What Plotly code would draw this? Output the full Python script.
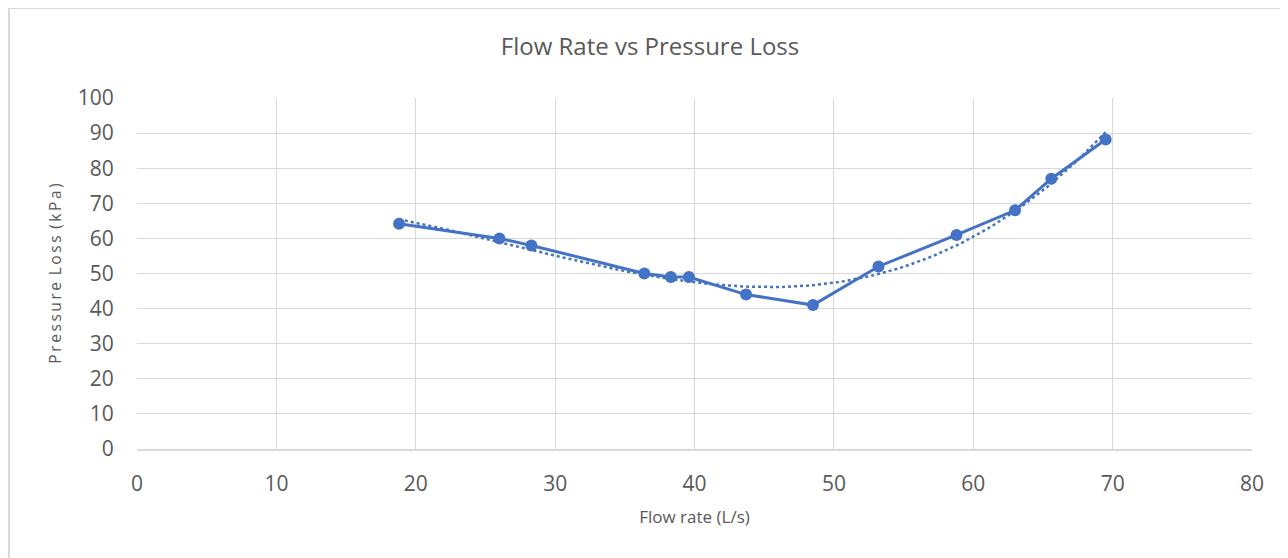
import numpy as np
import plotly.graph_objects as go

# Data
flow_rate = [18.8, 26.0, 28.3, 36.4, 38.3, 39.6, 43.7, 48.5, 53.2, 58.8, 63.0, 65.6, 69.5]
pressure_loss = [64.2, 60.0, 58.0, 50.0, 49.0, 49.0, 44.0, 41.0, 52.0, 61.0, 68.0, 77.0, 88.2]

x_ticks = [0, 10, 20, 30, 40, 50, 60, 70, 80]
y_ticks = [0, 10, 20, 30, 40, 50, 60, 70, 80, 90, 100]

BLUE = "#4472C4"
TEXT = "#595959"
GRID = "#d9d9d9"
FONT = "Open Sans"

# Page has an 8px body margin; figure is sized to fit the window
W, H = 1280, 550
L, R, T, B = 129, 36, 90, 109
PW, PH = W - L - R, H - T - B

# Polynomial trendline (as in the spreadsheet chart) fitted to the data
coef = np.polyfit(flow_rate, pressure_loss, 3)
trend_x = np.linspace(min(flow_rate), max(flow_rate), 120)
trend_y = np.polyval(coef, trend_x)

fig = go.Figure()
fig.add_trace(go.Scatter(
    x=trend_x, y=trend_y, mode="lines",
    line=dict(color=BLUE, width=2.5, dash="dot"),
    showlegend=False, hoverinfo="skip",
))
fig.add_trace(go.Scatter(
    x=flow_rate, y=pressure_loss, mode="lines+markers",
    line=dict(color=BLUE, width=3),
    marker=dict(color=BLUE, size=12),
    showlegend=False,
))

ytitle = "\u2009".join("Pressure") + " \u2009" + "\u2009".join("Loss") + " \u2009" + "\u2009".join("(kPa)")

fig.update_layout(
    width=W, height=H,
    paper_bgcolor="white", plot_bgcolor="white",
    margin=dict(l=L, r=R, t=T, b=B),
    font=dict(family=FONT, color=TEXT),
    title=dict(
        text="Flow Rate vs Pressure Loss",
        x=642 / W, xref="container", xanchor="center",
        y=1 - 39 / H, yref="container", yanchor="middle",
        font=dict(size=24, color=TEXT, family=FONT),
    ),
    xaxis=dict(
        range=[0, 80], tickvals=x_ticks, ticktext=[str(v) for v in x_ticks],
        showgrid=True, gridcolor=GRID, gridwidth=1,
        zeroline=False, showline=True, linecolor=GRID, linewidth=1.5,
        ticks="outside", ticklen=15, tickcolor="rgba(0,0,0,0)",
        tickfont=dict(size=21, color=TEXT, family=FONT),
        title=dict(text="Flow rate (L/s)", standoff=15,
                   font=dict(size=17, color=TEXT, family=FONT)),
        fixedrange=True,
    ),
    yaxis=dict(
        range=[0, 100], tickvals=y_ticks, ticktext=[str(v) for v in y_ticks],
        showgrid=True, gridcolor=GRID, gridwidth=1,
        zeroline=False, showline=False,
        ticks="outside", ticklen=18, tickcolor="rgba(0,0,0,0)",
        tickfont=dict(size=21, color=TEXT, family=FONT),
        title=dict(text=ytitle, standoff=12,
                   font=dict(size=15.5, color=TEXT, family=FONT)),
        fixedrange=True,
    ),
    shapes=[
        dict(type="line", xref="paper", yref="paper",
             x0=(1 - L) / PW, x1=(1 - L) / PW,
             y0=(H - B) / PH, y1=-(B + 20) / PH,
             line=dict(color=GRID, width=2), layer="below"),
        dict(type="line", xref="paper", yref="paper",
             x0=(1 - L) / PW, x1=(W + 20 - L) / PW,
             y0=(H - B) / PH, y1=(H - B) / PH,
             line=dict(color=GRID, width=2), layer="below"),
    ],
)

fig.write_html("out.html")
